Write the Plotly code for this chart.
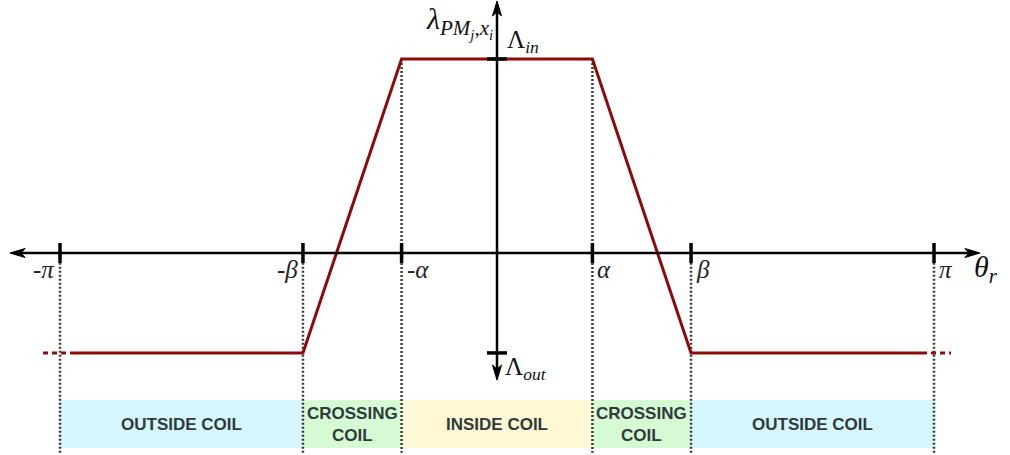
import numpy as np
import plotly.graph_objects as go

# ---- data -------------------------------------------------------------
PI = np.pi
alpha = 0.686            # half-width of the inside-coil region (rad)
beta = 1.395             # half-width of inside + crossing regions (rad)
lam_in = 1.0             # flux linkage when the magnet is inside the coil
lam_out = -0.515         # flux linkage when the magnet is outside the coil

# trapezoidal flux-linkage profile (solid part)
theta_solid = [-PI + 0.086, -beta, -alpha, alpha, beta, PI - 0.086]
lambda_solid = [lam_out, lam_out, lam_in, lam_in, lam_out, lam_out]

# dotted continuation beyond ±pi
theta_ext_left = [-PI - 0.122, -PI + 0.086]
theta_ext_right = [PI - 0.086, PI + 0.122]
lambda_ext = [lam_out, lam_out]

# x-axis ticks
tick_vals = [-PI, -beta, -alpha, alpha, beta, PI]
tick_text = ["-<i>π</i>", "-<i>β</i>", "-<i>α</i>", "<i>α</i>", "<i>β</i>", "<i>π</i>"]

# regions under the axis
region_bounds = [-PI, -beta, -alpha, alpha, beta, PI]
region_labels = ["OUTSIDE COIL", "CROSSING<br>COIL", "INSIDE COIL",
                 "CROSSING<br>COIL", "OUTSIDE COIL"]
region_colors = ["#d5f6fd", "#d6fbd4", "#fff8d4", "#d6fbd4", "#d5f6fd"]
band_top, band_bottom = -0.758, -1.005

# ---- figure -------------------------------------------------------------
W, H = 1010, 455
x_range = [-3.573, 3.688]
y_range = [-1.041, 1.304]

SERIF = "Liberation Serif"
SANS = "Liberation Sans"
CURVE = "#8b0a0a"

fig = go.Figure()

shapes = []
annotations = []

# coloured region bands
for i, lab in enumerate(region_labels):
    x0, x1 = region_bounds[i], region_bounds[i + 1]
    shapes.append(dict(type="rect", xref="x", yref="y", x0=x0, x1=x1,
                       y0=band_bottom, y1=band_top, fillcolor=region_colors[i],
                       line=dict(width=0), layer="below"))
    annotations.append(dict(x=(x0 + x1) / 2, y=(band_top + band_bottom) / 2,
                            xref="x", yref="y", text="<b>" + lab + "</b>",
                            showarrow=False, align="center",
                            font=dict(family=SANS, size=17, color="#2e3a3c")))

# dotted guides
for v in tick_vals:
    top = lam_in if abs(v) < 1.0 else -0.05
    fig.add_trace(go.Scatter(x=[v, v], y=[top, -1.03], mode="lines",
                             line=dict(color="#3a3a3a", width=2.5, dash="2px,2px"),
                             hoverinfo="skip", showlegend=False))

# axes lines
x_left_tip, x_right_tip = -3.501, 3.472
y_top_tip, y_bottom_tip = 1.299, -0.655
shapes.append(dict(type="line", xref="x", yref="y", x0=x_left_tip + 0.05, x1=x_right_tip - 0.05,
                   y0=0, y1=0, line=dict(color="black", width=2.5)))
shapes.append(dict(type="line", xref="x", yref="y", x0=0, x1=0,
                   y0=y_bottom_tip + 0.03, y1=y_top_tip - 0.03, line=dict(color="black", width=2.5)))

# arrow heads (pixel-sized paths anchored at the axis tips)
def head(xa, ya, path):
    return dict(type="path", xref="x", yref="y", xsizemode="pixel", ysizemode="pixel",
                xanchor=xa, yanchor=ya, path=path, fillcolor="black",
                line=dict(color="black", width=1))

shapes.append(head(x_right_tip, 0, "M0,0 L-15,4.5 L-11,0 L-15,-4.5 Z"))
shapes.append(head(x_left_tip, 0, "M0,0 L15,4.5 L11,0 L15,-4.5 Z"))
shapes.append(head(0, y_top_tip, "M0,0 L4.5,-15 L0,-11 L-4.5,-15 Z"))
shapes.append(head(0, y_bottom_tip, "M0,0 L4.5,15 L0,11 L-4.5,15 Z"))

# tick marks on the theta axis
for v in tick_vals:
    shapes.append(dict(type="line", xref="x", yref="y", ysizemode="pixel", yanchor=0,
                       x0=v, x1=v, y0=-10, y1=10, line=dict(color="black", width=3.5)))
# tick marks on the lambda axis
for v in (lam_in, lam_out):
    shapes.append(dict(type="line", xref="x", yref="y", xsizemode="pixel", xanchor=0,
                       x0=-10, x1=10, y0=v, y1=v, line=dict(color="black", width=3.5)))

# curve
fig.add_trace(go.Scatter(x=theta_solid, y=lambda_solid, mode="lines",
                         line=dict(color=CURVE, width=3), hoverinfo="skip", showlegend=False))
for tx in (theta_ext_left, theta_ext_right):
    fig.add_trace(go.Scatter(x=tx, y=lambda_ext, mode="lines",
                             line=dict(color=CURVE, width=3, dash="5px,4px"),
                             hoverinfo="skip", showlegend=False))

# tick labels
tfont = dict(family=SERIF, size=25, color="#222222")
for v, t in zip(tick_vals, tick_text):
    if v < 0 and abs(v) > 1.0:
        annotations.append(dict(x=v, y=0, xref="x", yref="y", text=t, showarrow=False,
                                xanchor="right", yanchor="top", xshift=-3, yshift=-1, font=tfont))
    else:
        annotations.append(dict(x=v, y=0, xref="x", yref="y", text=t, showarrow=False,
                                xanchor="left", yanchor="top", xshift=3, yshift=-1, font=tfont))

# axis titles and level labels
annotations.append(dict(x=x_right_tip, y=0, xref="x", yref="y", text="<i>θ<sub>r</sub></i>",
                        showarrow=False, xanchor="left", yanchor="top", xshift=-8, yshift=5,
                        font=dict(family=SERIF, size=30, color="#111111")))
annotations.append(dict(x=0, y=y_top_tip, xref="x", yref="y",
                        text="<i>λ<sub>PM<sub>j</sub>,x<sub>i</sub></sub></i>",
                        showarrow=False, xanchor="right", yanchor="top", xshift=-2, yshift=1,
                        font=dict(family=SERIF, size=30, color="#111111")))
annotations.append(dict(x=0, y=lam_in, xref="x", yref="y", text="Λ<sub><i>in</i></sub>",
                        showarrow=False, xanchor="left", yanchor="bottom", xshift=8, yshift=0,
                        font=dict(family=SERIF, size=25, color="#111111")))
annotations.append(dict(x=0, y=lam_out, xref="x", yref="y", text="Λ<sub><i>out</i></sub>",
                        showarrow=False, xanchor="left", yanchor="top", xshift=6, yshift=2,
                        font=dict(family=SERIF, size=25, color="#111111")))

fig.update_layout(
    width=W, height=H,
    margin=dict(l=0, r=0, t=0, b=0),
    paper_bgcolor="white", plot_bgcolor="white",
    xaxis=dict(range=x_range, visible=False, fixedrange=True),
    yaxis=dict(range=y_range, visible=False, fixedrange=True),
    shapes=shapes, annotations=annotations,
    showlegend=False,
)

fig.write_html("out.html")
